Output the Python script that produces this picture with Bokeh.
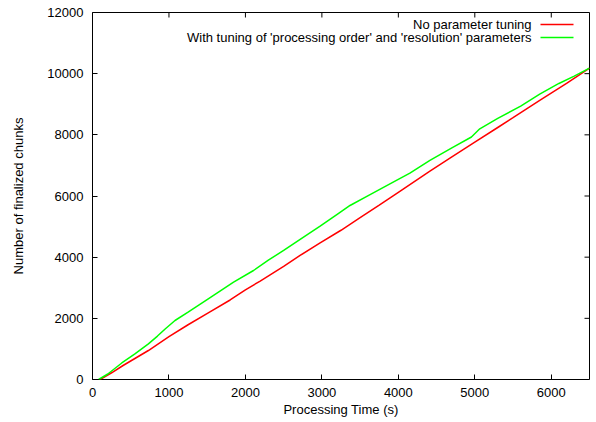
import math
from bokeh.plotting import figure
from bokeh.models import Range1d, FixedTicker, Label, BoxAnnotation
from bokeh.embed import file_html
from bokeh.resources import INLINE

# ---- data ----
red_t = [100, 250, 400, 731, 1000, 1250, 1514, 1800, 2000, 2193, 2500, 2715, 2977, 3250,
         3500, 3750, 4000, 4413, 4700, 5000, 5300, 5500, 5849, 6200, 6500]
red_n = [0, 220, 458, 948, 1400, 1790, 2180, 2600, 2930, 3220, 3700, 4055, 4469, 4880,
         5290, 5700, 6120, 6812, 7280, 7760, 8240, 8560, 9124, 9680, 10180]

green_t = [80, 200, 383, 550, 731, 850, 950, 1079, 1250, 1514, 1845, 2106, 2300, 2500,
           2824, 2977, 3200, 3368, 3600, 3890, 4151, 4413, 4700, 4956, 5065, 5300, 5600,
           5849, 6100, 6300, 6500]
green_n = [0, 180, 540, 830, 1167, 1420, 1650, 1929, 2200, 2638, 3183, 3564, 3900, 4222,
           4763, 5013, 5400, 5690, 6004, 6396, 6747, 7162, 7576, 7930, 8197, 8540, 8940,
           9330, 9680, 9920, 10180]

x_ticks = [0, 1000, 2000, 3000, 4000, 5000, 6000]
y_ticks = [0, 2000, 4000, 6000, 8000, 10000, 12000]
x_max = 6500
y_max = 12000

label_red = "No parameter tuning"
label_green = "With tuning of 'processing order' and 'resolution' parameters"

FONT = "Liberation Sans"
FS = "13px"

p = figure(width=596, height=422, output_backend="svg", toolbar_location=None,
           x_range=Range1d(0, x_max), y_range=Range1d(0, y_max),
           min_border_left=92, min_border_right=7, min_border_top=12, min_border_bottom=43)
p.xgrid.visible = False
p.ygrid.visible = False
p.outline_line_color = "black"
p.outline_line_width = 1
p.background_fill_color = "white"
p.border_fill_color = "white"

for ax in (p.xaxis[0], p.yaxis[0]):
    ax.axis_line_color = None
    ax.major_tick_in = 5
    ax.major_tick_out = 0
    ax.minor_tick_line_color = None
    ax.major_tick_line_color = "black"
    ax.major_label_text_font = FONT
    ax.major_label_text_font_size = FS
    ax.major_label_text_color = "black"
    ax.axis_label_text_font = FONT
    ax.axis_label_text_font_size = FS
    ax.axis_label_text_font_style = "normal"
    ax.axis_label_text_color = "black"

p.xaxis[0].ticker = FixedTicker(ticks=x_ticks)
p.yaxis[0].ticker = FixedTicker(ticks=y_ticks)
p.xaxis[0].axis_label = "Processing Time (s)"
p.yaxis[0].axis_label = "Number of finalized chunks"
p.xaxis[0].major_label_standoff = 8
p.xaxis[0].axis_label_standoff = 2
p.yaxis[0].major_label_standoff = 9
p.yaxis[0].axis_label_standoff = 18

# mirrored inward ticks on top and right edges
p.ray(x=x_ticks, y=[y_max] * len(x_ticks), length=5, length_units="screen",
      angle=-math.pi / 2, line_color="black", line_width=1)
p.ray(x=[x_max] * len(y_ticks), y=y_ticks, length=5, length_units="screen",
      angle=math.pi, line_color="black", line_width=1)

p.line(red_t, red_n, line_color="#ff0000", line_width=1.5)
p.line(green_t, green_n, line_color="#00ff00", line_width=1.5)

# gnuplot-style key: text right-aligned, sample to the right
rows = [(label_red, "#ff0000", 355), (label_green, "#00ff00", 342)]
for txt, col, yy in rows:
    p.add_layout(Label(x=439, y=yy, x_units="screen", y_units="screen", text=txt,
                       text_align="right", text_baseline="middle", text_font=FONT,
                       text_font_size=FS, text_color="black"))
    p.add_layout(BoxAnnotation(left=448, right=481, bottom=yy - 0.75, top=yy + 0.75,
                               left_units="screen", right_units="screen",
                               bottom_units="screen", top_units="screen",
                               fill_color=col, fill_alpha=1, line_color=None))

open("out.html", "w").write(file_html(p, INLINE))
